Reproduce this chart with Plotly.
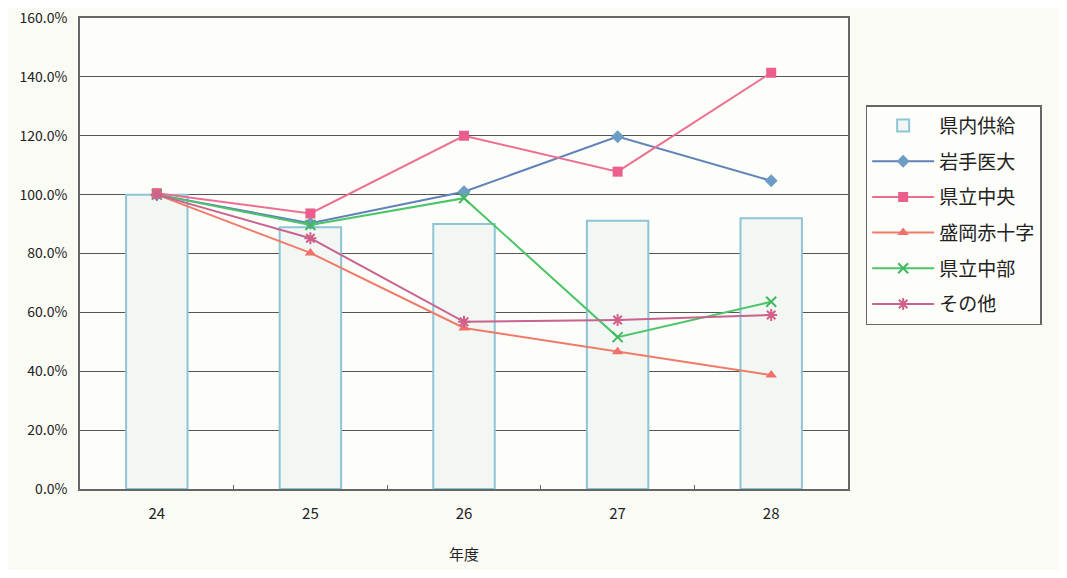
import plotly.graph_objects as go

years = ["24", "25", "26", "27", "28"]
supply = [1.000, 0.889, 0.900, 0.911, 0.920]          # 県内供給
iwate = [1.000, 0.903, 1.010, 1.197, 1.047]           # 岩手医大
kenritsu_chuo = [1.005, 0.936, 1.200, 1.078, 1.414]   # 県立中央
morioka_red = [1.000, 0.802, 0.547, 0.466, 0.387]     # 盛岡赤十字
kenritsu_chubu = [1.000, 0.897, 0.988, 0.516, 0.636]  # 県立中部
others = [1.000, 0.852, 0.568, 0.574, 0.591]          # その他

FONT = "Noto Sans CJK JP"

fig = go.Figure()
fig.add_trace(go.Bar(
    x=years, y=supply, name="県内供給", width=0.4, legendgroup="a",
    marker=dict(color="#f3f7f4", line=dict(color="#8ec5d6", width=2)),
))
fig.add_trace(go.Scatter(
    x=years, y=iwate, name="岩手医大", mode="lines+markers", legendgroup="b",
    line=dict(color="#5f82b8", width=2),
    marker=dict(symbol="diamond", size=10, color="#6d9cc4"),
))
fig.add_trace(go.Scatter(
    x=years, y=kenritsu_chuo, name="県立中央", mode="lines+markers", legendgroup="c",
    line=dict(color="#ec6f93", width=2),
    marker=dict(symbol="square", size=10, color="#ec5f8c"),
))
fig.add_trace(go.Scatter(
    x=years, y=morioka_red, name="盛岡赤十字", mode="lines+markers", legendgroup="d",
    line=dict(color="#f07a68", width=2),
    marker=dict(symbol="triangle-up", size=10, color="#f0706a"),
))
fig.add_trace(go.Scatter(
    x=years, y=kenritsu_chubu, name="県立中部", mode="lines+markers", legendgroup="e",
    line=dict(color="#4cc46a", width=2),
    marker=dict(symbol="x-thin", size=10, line=dict(color="#3fb85e", width=2)),
))
fig.add_trace(go.Scatter(
    x=years, y=others, name="その他", mode="lines+markers", legendgroup="f",
    line=dict(color="#c8628f", width=2),
    marker=dict(symbol="asterisk", size=10, line=dict(color="#d0608a", width=2)),
))

fig.update_layout(
    width=1051, height=562,
    paper_bgcolor="#fbfbf6", plot_bgcolor="#fdfdfa",
    margin=dict(l=72, r=211, t=10, b=81, autoexpand=False),
    font=dict(family=FONT, size=14, color="#222"),
    showlegend=True,
    legend=dict(
        x=1.023, y=0.815, xanchor="left", yanchor="top",
        bgcolor="#fdfdfa", bordercolor="#666", borderwidth=1.5,
        font=dict(family=FONT, size=19, color="#222"),
        tracegroupgap=8, itemwidth=62,
    ),
    xaxis=dict(
        type="category", showgrid=False, automargin=False,
        showline=True, linecolor="#666", linewidth=1.5, mirror=True,
        ticks="inside", tickson="boundaries", ticklen=4, tickcolor="#666",
        tickfont=dict(size=15, color="#222"), ticklabelstandoff=10,
    ),
    yaxis=dict(
        range=[0, 1.6], dtick=0.2, tickformat=".1%", automargin=False,
        showgrid=True, gridcolor="#555", gridwidth=1.2,
        showline=True, linecolor="#666", linewidth=1.5, mirror=True,
        zeroline=False, ticks="", ticklabeloverflow="allow",
        tickfont=dict(size=14, color="#222"), ticklabelstandoff=8,
    ),
    annotations=[dict(
        text="年度", xref="paper", yref="paper", x=0.5, y=-0.138,
        xanchor="center", yanchor="middle", showarrow=False,
        font=dict(family=FONT, size=15, color="#222"),
    )],
)

fig.write_html("out.html")
